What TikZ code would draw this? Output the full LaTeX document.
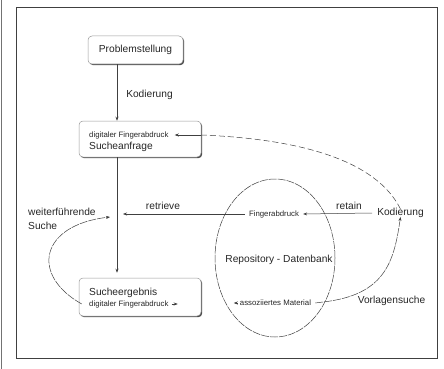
\documentclass[tikz,border=0pt]{standalone}
\usepackage{fontspec}
\setmainfont{Liberation Sans}
\usetikzlibrary{arrows.meta,shapes.geometric,shadows}
\begin{document}
\begin{tikzpicture}[x=1pt,y=-1pt,
  line/.style={draw=black!75, line width=0.5pt},
  arr/.style={line, -{Stealth[length=4pt,width=3pt]}},
  loose/.style={dash pattern=on 8pt off 1pt},
  dashd/.style={dash pattern=on 6pt off 3pt},
  box/.style={draw=black!40, line width=0.5pt, rounded corners=4pt, fill=white,
    drop shadow={shadow xshift=1.2pt, shadow yshift=-1.2pt, fill=black!70, opacity=1}},
  big/.style={font=\fontsize{10.2}{12}\selectfont, text=black!85, inner sep=0pt},
  small/.style={font=\fontsize{7.8}{9}\selectfont, text=black!85, inner sep=0pt},
]
\useasboundingbox (0,0) rectangle (444,369);
\draw[black!55, line width=1.5pt] (1.5,0) -- (1.5,369);
\draw[black!75, line width=1pt] (16,7.5) rectangle (437,358);

% boxes
\node[box, minimum width=95pt, minimum height=28pt] (prob) at (135.5,50) {};
\node[big] (probtxt) at (prob.center) {Problemstellung};
\node[box, minimum width=122pt, minimum height=36pt] (anfrage) at (140,139) {};
\node[small, anchor=west] (anfragefa) at (89,135) {digitaler Fingerabdruck};
\node[big, anchor=west] (anfragetxt) at (89,146.5) {Sucheanfrage};
\node[box, minimum width=122pt, minimum height=38pt] (ergebnis) at (140,297) {};
\node[big, anchor=west] (ergtxt) at (89,293) {Sucheergebnis};
\node[small, anchor=west] (ergfa) at (89,304) {digitaler Fingerabdruck};

% ellipse
\node[ellipse, draw=black!75, line width=0.5pt, loose, minimum width=120pt, minimum height=158pt, inner sep=0pt] (db) at (275,258) {};
\node[big] (dbtxt) at (279,260) {Repository - Datenbank};
\node[small] (fa) at (274,214) {Fingerabdruck};
\node[small] (am) at (275.5,303) {assoziiertes Material};

% right side
\node[big] (kod) at (400.5,213) {Kodierung};
\node[big] (vorl) at (391.5,301) {Vorlagensuche};
\node[big, align=left, anchor=north west] (weiter) at (28,207.5) {weiterführende\\[2pt]Suche};

% labels
\node[big] (kodlab) at (149.5,95) {Kodierung};
\node[big] (retrlab) at (163,206) {retrieve};
\node[big] (retalab) at (349,206) {retain};

% coordinates
\coordinate (colx) at (117,0);
\coordinate (retend) at (123,214);
\coordinate (leftend) at (110,217);

% connectors
\draw[arr] (prob.south -| colx) -- (anfrage.north -| colx);
\draw[arr, shorten >=5pt] (anfrage.south -| colx) -- (ergebnis.north -| colx);
\draw[arr] ([xshift=-4pt]fa.west) -- (retend);
\draw[arr] ([xshift=-5pt]kod.west) -- ([xshift=4pt]fa.east);
\draw[line, dashd] ([yshift=-1pt]kod.north) .. controls (376,160) and (300,139) .. (anfrage.east |- anfragefa);
\draw[arr] (anfrage.east |- anfragefa) -- ([xshift=6pt]anfragefa.east);
\draw[arr] ([xshift=3pt]ergfa.east) -- ([xshift=9pt]ergfa.east);
\draw[arr] ([xshift=-2pt]am.west) -- ([xshift=-6pt]am.west);
\draw[arr, loose] ([xshift=4pt]am.east) -- (323,302) .. controls (385,295) and (394,262) .. ([yshift=1pt]kod.south);
\draw[arr, loose] ([xshift=3pt]ergebnis.west |- ergfa) .. controls (30,275) and (40,225) .. (leftend);
\end{tikzpicture}
\end{document}
